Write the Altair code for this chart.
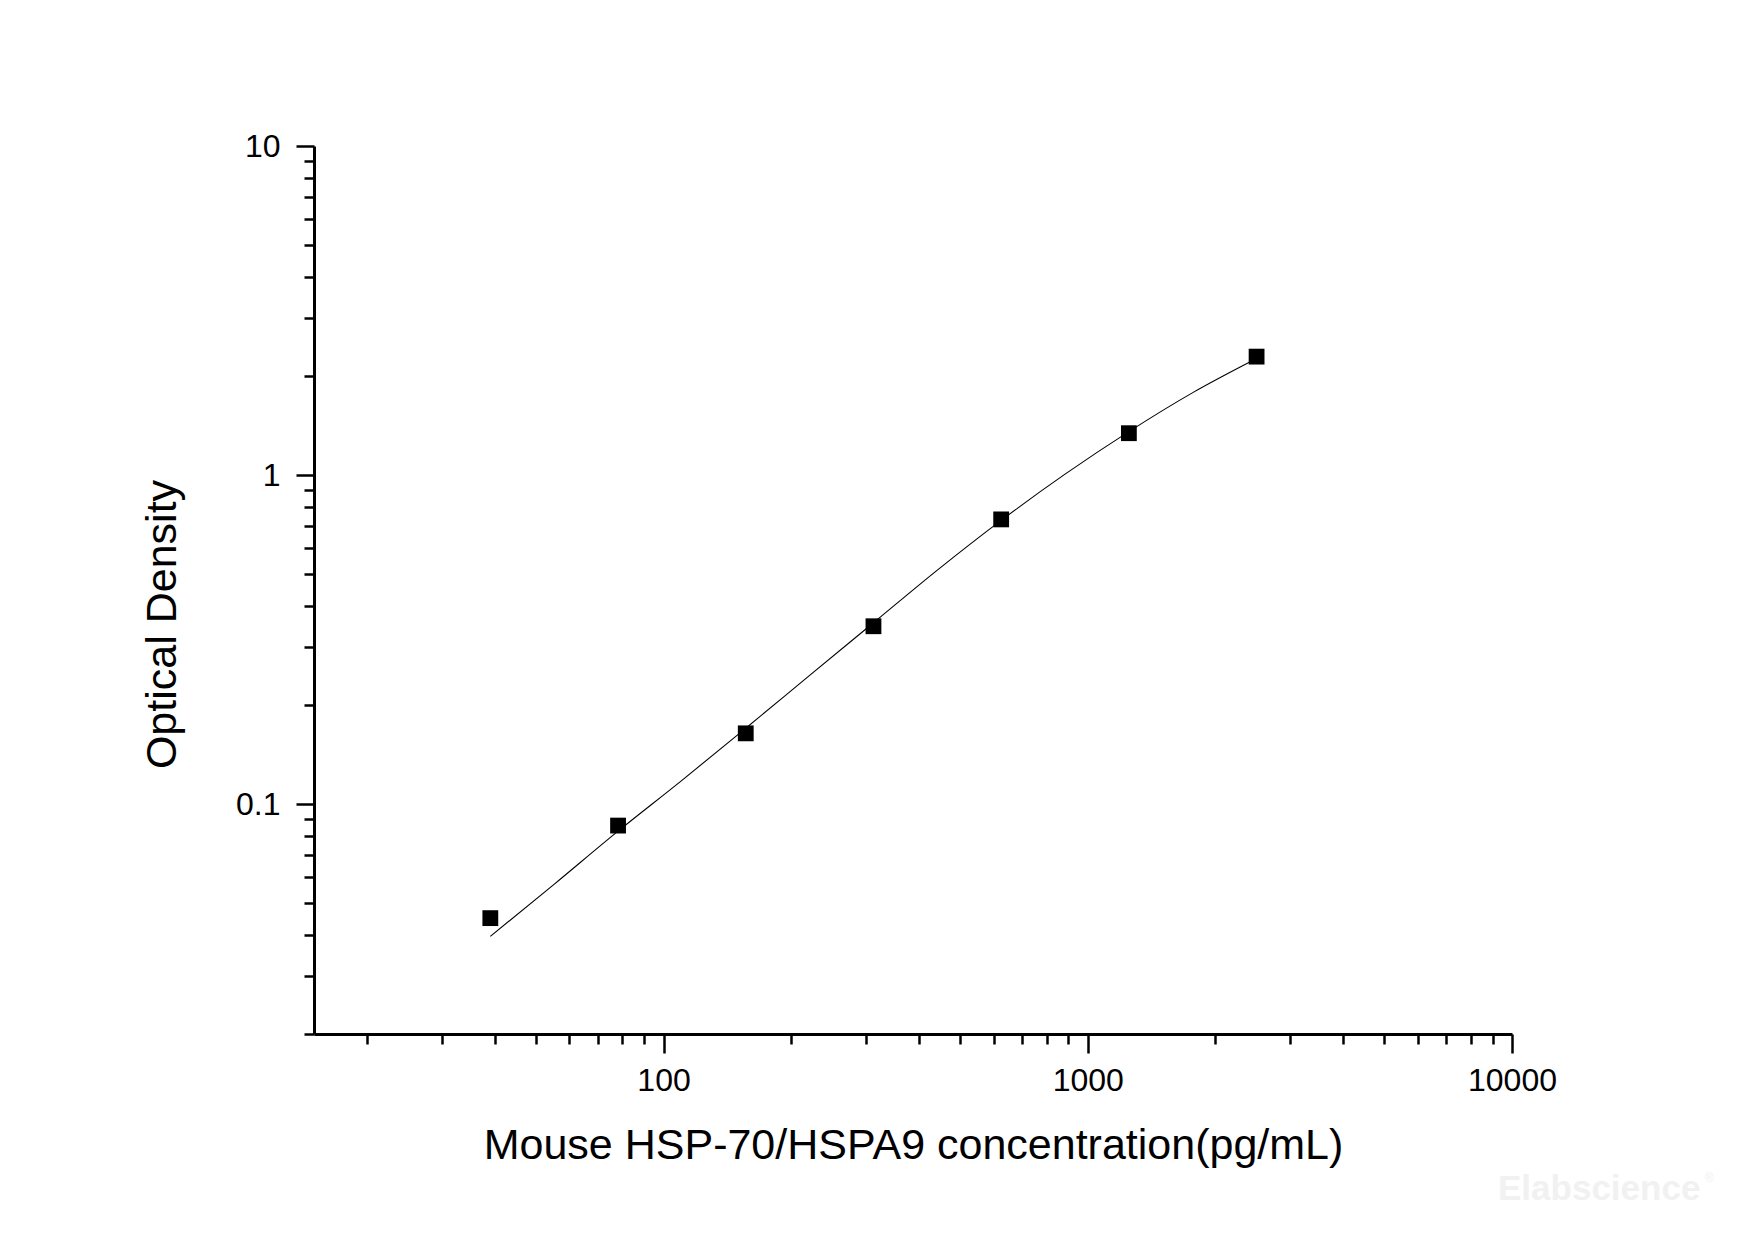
import altair as alt
import pandas as pd

# standard curve points (pg/mL vs OD)
conc = [39.06, 78.13, 156.25, 312.5, 625, 1250, 2500]
od = [0.045, 0.086, 0.164, 0.347, 0.733, 1.34, 2.29]

# fitted curve
fit_conc = [39.06, 55.2, 78.13, 110.5, 156.25, 221, 312.5, 442, 625, 884, 1250, 1768, 2500]
fit_od = [0.0396, 0.057, 0.0827, 0.118, 0.170, 0.246, 0.3555, 0.514, 0.728, 1.006, 1.355, 1.78, 2.26]

x_major = [100, 1000, 10000]
x_minor = [20, 30, 40, 50, 60, 70, 80, 90,
           200, 300, 400, 500, 600, 700, 800, 900,
           2000, 3000, 4000, 5000, 6000, 7000, 8000, 9000]
y_major = [0.1, 1, 10]
y_minor = [0.02, 0.03, 0.04, 0.05, 0.06, 0.07, 0.08, 0.09,
           0.2, 0.3, 0.4, 0.5, 0.6, 0.7, 0.8, 0.9,
           2, 3, 4, 5, 6, 7, 8, 9]

FONT = "Liberation Sans"

pts = pd.DataFrame({"conc": conc, "od": od})
fit = pd.DataFrame({"conc": fit_conc, "od": fit_od})


def is_major(vals):
    return f"indexof({vals}, datum.value) >= 0"


x_axis = alt.Axis(
    values=x_major + x_minor,
    title="Mouse HSP-70/HSPA9 concentration(pg/mL)",
    tickSize={"condition": {"test": is_major(x_major), "value": 19}, "value": 10},
    labelExpr=f"{is_major(x_major)} ? toString(datum.value) : ''",
    labelFlush=False,
    labelOverlap=False,
    labelPadding=12,
    labelFontSize=32,
    titleFontSize=43,
    titleX=599,
    titleY=124,
    titleBaseline="alphabetic",
    grid=False,
)

y_axis = alt.Axis(
    values=y_major + y_minor,
    title="Optical Density",
    tickSize={"condition": {"test": is_major(y_major), "value": 18}, "value": 10},
    labelExpr=f"{is_major(y_major)} ? toString(datum.value) : ''",
    labelFlush=False,
    labelOverlap=False,
    labelPadding=16,
    labelFontSize=32,
    labelBaseline="middle",
    titleFontSize=43,
    titleX=-139,
    titleY=478,
    titleBaseline="alphabetic",
    grid=False,
)

x_scale = alt.Scale(type="log", domain=[15, 10000], nice=False)
y_scale = alt.Scale(type="log", domain=[0.02, 10], nice=False)

line = alt.Chart(fit).mark_line(color="black", strokeWidth=1.1, interpolate="monotone").encode(
    x=alt.X("conc:Q", scale=x_scale, axis=x_axis),
    y=alt.Y("od:Q", scale=y_scale, axis=y_axis),
)

dots = alt.Chart(pts).mark_square(size=250, color="black", opacity=1).encode(
    x=alt.X("conc:Q", scale=x_scale),
    y=alt.Y("od:Q", scale=y_scale),
)

# faint watermark in the corner
mark = alt.Chart(pd.DataFrame({"t": ["Elabscience"]})).mark_text(
    font=FONT, fontSize=35, fontWeight="bold", color="#f1f1f1", align="left", baseline="alphabetic"
).encode(x=alt.value(1184), y=alt.value(1054), text="t:N")

reg = alt.Chart(pd.DataFrame({"t": ["®"]})).mark_text(
    font=FONT, fontSize=12, color="#f1f1f1", align="left", baseline="alphabetic"
).encode(x=alt.value(1391), y=alt.value(1036), text="t:N")

chart = (line + dots + mark + reg).properties(
    width=1198,
    height=888,
    autosize=alt.AutoSizeParams(type="none"),
    padding={"left": 306, "top": 138, "right": 230, "bottom": 190},
    background="white",
).configure_view(
    stroke=None
).configure_axis(
    domainColor="black",
    domainWidth=3,
    tickColor="black",
    tickWidth=2.5,
    labelColor="black",
    titleColor="black",
    labelFont=FONT,
    titleFont=FONT,
    titleFontWeight="normal",
)

chart.save("out.html", embed_options={"renderer": "svg", "actions": False})
